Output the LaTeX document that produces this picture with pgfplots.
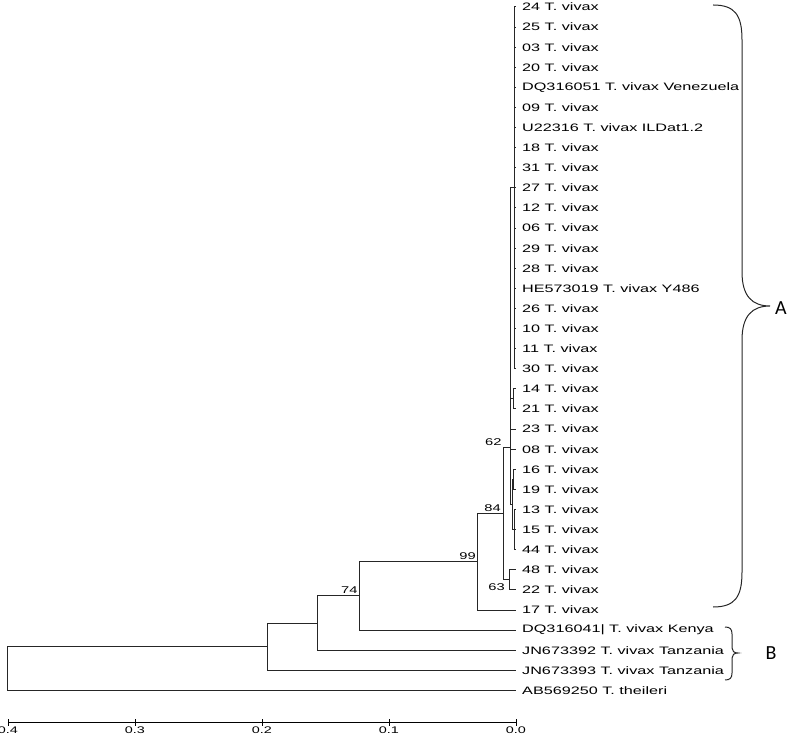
\documentclass[border=0pt]{standalone}
\usepackage{pgfplots}
\pgfplotsset{compat=1.18}
\usepackage{fontspec}
\setmainfont{Liberation Sans}
\newfontfamily\labfont[FakeStretch=1.5]{Liberation Sans}
\newfontfamily\bracefont{Carlito}
\begin{document}
\begin{tikzpicture}
\useasboundingbox (-8pt,-14pt) rectangle (786pt,722pt);
\begin{axis}[
  at={(0pt,0pt)}, anchor=south west,
  scale only axis, width=508pt, height=722pt,
  xmin=0, xmax=0.4, ymin=-35.572, ymax=0.348,
  x dir=reverse,
  axis x line=bottom, axis y line=none,
  x axis line style={-, black, line width=0.8pt},
  xtick={0,0.1,0.2,0.3,0.4},
  major tick length=7pt, tick align=center,
  tick style={black, line width=0.8pt},
  xticklabel style={font=\labfont\fontsize{9.6}{11}\selectfont, /pgf/number format/fixed, /pgf/number format/fixed zerofill, /pgf/number format/precision=1, inner sep=0pt, yshift=-1pt},
  /pgf/number format/assume math mode=true,
  clip=false,
  unbounded coords=jump,
]
% tree branches
\addplot[black!85, line width=1pt, mark=none] coordinates {
(0.196,-31.83) (0.4,-31.83) (0.4,-34) (0,-34) (nan,nan)
(0.156,-30.65) (0.196,-30.65) (0.196,-33) (0,-33) (nan,nan)
(0.123,-29.3) (0.156,-29.3) (0.156,-32) (0,-32) (nan,nan)
(0.030,-27.6) (0.123,-27.6) (0.123,-31) (0,-31) (nan,nan)
(0.0102,-25.2) (0.030,-25.2) (0.030,-30) (0,-30) (nan,nan)
(0.0042,-21.9) (0.0102,-21.9) (0.0102,-28.5) (0.0055,-28.5) (nan,nan)
(0,-28) (0.0055,-28) (0.0055,-29) (0,-29) (nan,nan)
(0.0008,-9) (0.0042,-9) (0.0042,-24.75) (0.003,-24.75) (nan,nan)
(0.0042,-19.5) (0.0022,-19.5) (nan,nan)
(0.0042,-21) (0,-21) (nan,nan)
(0.0042,-22) (0,-22) (nan,nan)
(0,-19) (0.0022,-19) (0.0022,-20) (0,-20) (nan,nan)
(0.0018,-23.5) (0.003,-23.5) (0.003,-26) (0.0008,-26) (nan,nan)
(0,-23) (0.0018,-23) (0.0018,-24) (0,-24) (nan,nan)
(0,-25) (0.0008,-25) (0.0008,-27) (0,-27) (nan,nan)
(0.0008,-26) (0,-26) (nan,nan)
(0,0) (0.0008,0) (0.0008,-18) (0,-18) (nan,nan)
(0.0008,-1) (0,-1) (nan,nan) (0.0008,-2) (0,-2) (nan,nan)
(0.0008,-3) (0,-3) (nan,nan) (0.0008,-4) (0,-4) (nan,nan)
(0.0008,-5) (0,-5) (nan,nan) (0.0008,-6) (0,-6) (nan,nan)
(0.0008,-7) (0,-7) (nan,nan) (0.0008,-8) (0,-8) (nan,nan)
(0.0008,-9) (0,-9) (nan,nan) (0.0008,-10) (0,-10) (nan,nan)
(0.0008,-11) (0,-11) (nan,nan) (0.0008,-12) (0,-12) (nan,nan)
(0.0008,-13) (0,-13) (nan,nan) (0.0008,-14) (0,-14) (nan,nan)
(0.0008,-15) (0,-15) (nan,nan) (0.0008,-16) (0,-16) (nan,nan)
(0.0008,-17) (0,-17)
};
% tip labels
\addplot[draw=none, mark=none, nodes near coords, point meta=explicit symbolic,
  every node near coord/.append style={anchor=west, inner sep=0pt, xshift=6pt, text=black, font=\labfont\fontsize{10.8}{12}\selectfont}]
  table[col sep=comma, x=x, y=y, meta=label] {
x,y,label
0,0,24 T. vivax
0,-1,25 T. vivax
0,-2,03 T. vivax
0,-3,20 T. vivax
0,-4,DQ316051 T. vivax Venezuela
0,-5,09 T. vivax
0,-6,U22316 T. vivax ILDat1.2
0,-7,18 T. vivax
0,-8,31 T. vivax
0,-9,27 T. vivax
0,-10,12 T. vivax
0,-11,06 T. vivax
0,-12,29 T. vivax
0,-13,28 T. vivax
0,-14,HE573019 T. vivax Y486
0,-15,26 T. vivax
0,-16,10 T. vivax
0,-17,11 T. vivax
0,-18,30 T. vivax
0,-19,14 T. vivax
0,-20,21 T. vivax
0,-21,23 T. vivax
0,-22,08 T. vivax
0,-23,16 T. vivax
0,-24,19 T. vivax
0,-25,13 T. vivax
0,-26,15 T. vivax
0,-27,44 T. vivax
0,-28,48 T. vivax
0,-29,22 T. vivax
0,-30,17 T. vivax
0,-31,DQ316041| T. vivax Kenya
0,-32,JN673392 T. vivax Tanzania
0,-33,JN673393 T. vivax Tanzania
0,-34,AB569250 T. theileri
};
% bootstrap values
\addplot[draw=none, mark=none, nodes near coords, point meta=explicit symbolic,
  every node near coord/.append style={anchor=south east, inner sep=0pt, xshift=-2pt, yshift=2pt, text=black, font=\labfont\fontsize{9.8}{11}\selectfont}]
  coordinates {(0.030,-27.6)[99] (0.0102,-25.2)[84] (0.123,-29.3)[74]};
\addplot[draw=none, mark=none, nodes near coords, point meta=explicit symbolic,
  every node near coord/.append style={anchor=south east, inner sep=0pt, xshift=-9pt, yshift=1pt, text=black, font=\labfont\fontsize{9.8}{11}\selectfont}]
  coordinates {(0.0042,-21.9)[62]};
\addplot[draw=none, mark=none, nodes near coords, point meta=explicit symbolic,
  every node near coord/.append style={anchor=north east, inner sep=0pt, xshift=-4pt, yshift=-4pt, text=black, font=\labfont\fontsize{9.8}{11}\selectfont}]
  coordinates {(0.0055,-28.5)[63]};
\end{axis}
\begin{scope}[x=1pt, y=-1pt, shift={(-8pt,722pt)}]
\draw[black!85, line width=1pt]
  (713,5) .. controls (735,5) and (742,15) .. (742,40) -- (742,272)
  .. controls (742,296) and (752,306) .. (770,306)
  .. controls (752,306) and (742,316) .. (742,340) -- (742,572)
  .. controls (742,597) and (735,607) .. (713,607);
\draw[black!85, line width=1pt]
  (725,627) .. controls (730,627) and (732,629) .. (732,634) -- (732,648)
  .. controls (732,651) and (734,653) .. (738,653)
  .. controls (734,653) and (732,655) .. (732,658) -- (732,673)
  .. controls (732,678) and (730,680) .. (725,680);
\node[font=\bracefont\fontsize{20}{22}\selectfont, inner sep=0pt] at (781,308) {A};
\node[font=\bracefont\fontsize{20}{22}\selectfont, inner sep=0pt] at (771,653) {B};
\end{scope}
\end{tikzpicture}
\end{document}
